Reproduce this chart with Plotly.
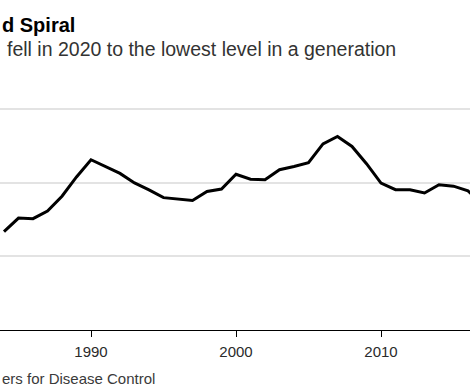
import plotly.graph_objects as go

years = list(range(1984, 2021))
births_millions = [3.669, 3.761, 3.757, 3.809, 3.910, 4.041, 4.158, 4.111, 4.065, 4.000,
                   3.953, 3.900, 3.891, 3.881, 3.942, 3.959, 4.059, 4.026, 4.022, 4.090,
                   4.112, 4.138, 4.266, 4.316, 4.248, 4.131, 3.999, 3.954, 3.953, 3.932,
                   3.988, 3.978, 3.946, 3.856, 3.792, 3.748, 3.614]
x_ticks = [1980, 1990, 2000, 2010, 2020]
x_tick_labels = ["1980", "1990", "2000", "2010", "2020"]
y_grid = [3.5, 4.0, 4.5]

title_text = "d Spiral"
subtitle_text = "fell in 2020 to the lowest level in a generation"
source_text = "ers for Disease Control"

W, H = 470, 392
T, B = 94, 62
plot_h = H - T - B

def py(pix):
    return (H - B - pix) / plot_h

fig = go.Figure()
fig.add_trace(go.Scatter(x=years, y=births_millions, mode="lines",
                         line=dict(color="#000000", width=3), hoverinfo="skip"))

font_family = "Liberation Sans, Arial, sans-serif"
fig.update_layout(
    width=W, height=H,
    margin=dict(l=0, r=0, t=T, b=B, pad=0),
    paper_bgcolor="white", plot_bgcolor="white",
    showlegend=False,
    font=dict(family=font_family, color="#333333"),
    xaxis=dict(range=[1983.724, 2016.138], tickvals=x_ticks, ticktext=x_tick_labels,
               showgrid=False, zeroline=False, showline=True, linecolor="#000000",
               linewidth=1, ticks="outside", ticklen=6, tickcolor="#000000", tickwidth=1,
               ticklabelstandoff=2,
               tickfont=dict(size=15, color="#2a2a2a", family=font_family)),
    yaxis=dict(range=[3.0, 4.605], tickvals=y_grid, showticklabels=False,
               showgrid=True, gridcolor="#e3e3e3", gridwidth=2, zeroline=False,
               showline=False, ticks=""),
)

fig.add_annotation(text="<b>" + title_text + "</b>", xref="paper", yref="paper",
                   x=0, y=py(25), xanchor="left", yanchor="middle", showarrow=False,
                   font=dict(size=20, color="#000000", family=font_family))
fig.add_annotation(text=subtitle_text, xref="paper", yref="paper",
                   x=0, xshift=5, y=py(49), xanchor="left", yanchor="middle", showarrow=False,
                   font=dict(size=19.5, color="#333333", family=font_family))
fig.add_annotation(text=source_text, xref="paper", yref="paper",
                   x=0, y=py(378), xanchor="left", yanchor="middle", showarrow=False,
                   font=dict(size=15, color="#3a3a3a", family=font_family))

fig.write_html("out.html", config={"displayModeBar": False, "staticPlot": True},
               post_script="document.body.style.margin='0';document.body.style.padding='0';")
